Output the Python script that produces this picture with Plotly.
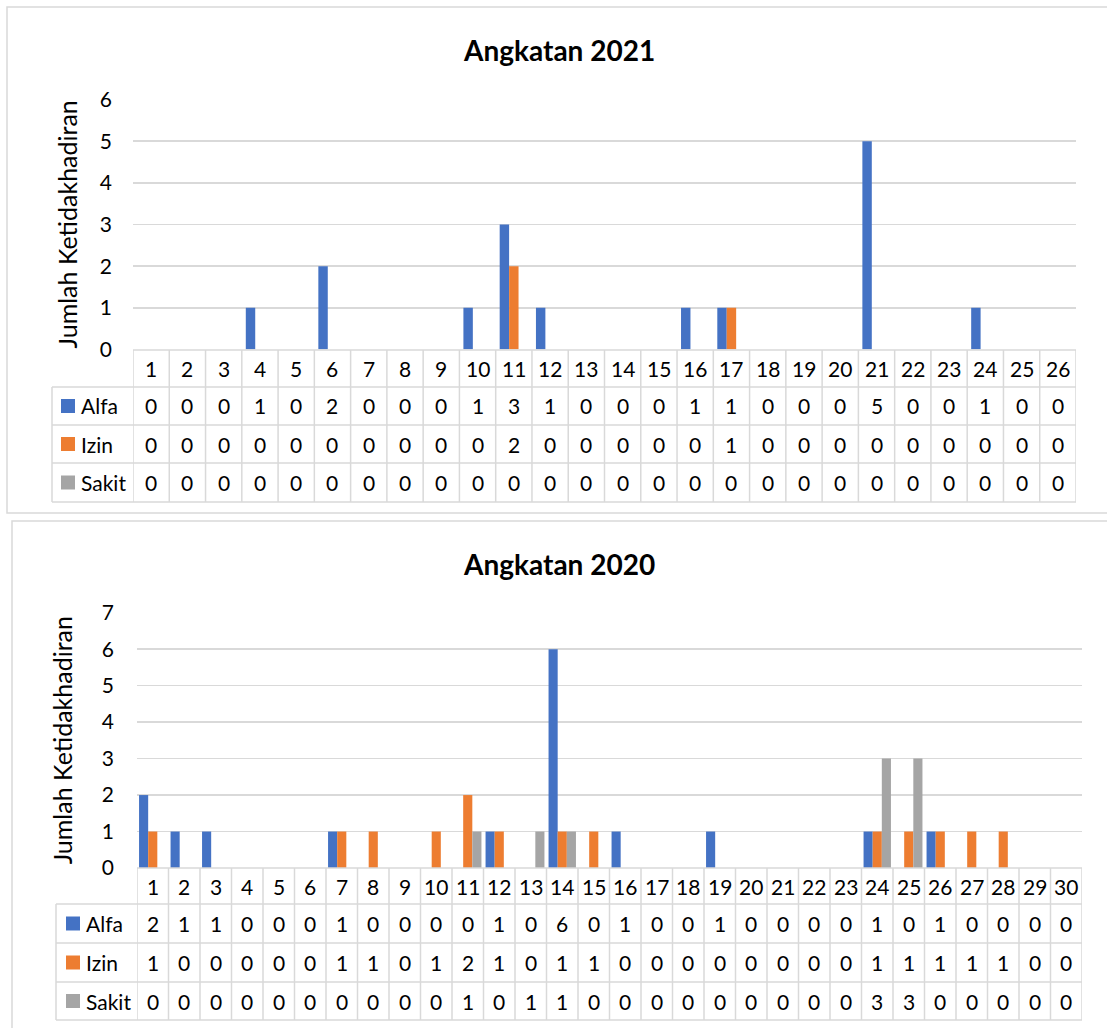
import plotly.graph_objects as go

W, H = 1107, 1028

# ---------------- data ----------------
days_2021 = ["1", "2", "3", "4", "5", "6", "7", "8", "9", "10", "11", "12", "13",
             "14", "15", "16", "17", "18", "19", "20", "21", "22", "23", "24", "25", "26"]
alfa_2021 = [0, 0, 0, 1, 0, 2, 0, 0, 0, 1, 3, 1, 0, 0, 0, 1, 1, 0, 0, 0, 5, 0, 0, 1, 0, 0]
izin_2021 = [0, 0, 0, 0, 0, 0, 0, 0, 0, 0, 2, 0, 0, 0, 0, 0, 1, 0, 0, 0, 0, 0, 0, 0, 0, 0]
sakit_2021 = [0, 0, 0, 0, 0, 0, 0, 0, 0, 0, 0, 0, 0, 0, 0, 0, 0, 0, 0, 0, 0, 0, 0, 0, 0, 0]

days_2020 = ["1", "2", "3", "4", "5", "6", "7", "8", "9", "10", "11", "12", "13", "14", "15",
             "16", "17", "18", "19", "20", "21", "22", "23", "24", "25", "26", "27", "28", "29", "30"]
alfa_2020 = [2, 1, 1, 0, 0, 0, 1, 0, 0, 0, 0, 1, 0, 6, 0, 1, 0, 0, 1, 0, 0, 0, 0, 1, 0, 1, 0, 0, 0, 0]
izin_2020 = [1, 0, 0, 0, 0, 0, 1, 1, 0, 1, 2, 1, 0, 1, 1, 0, 0, 0, 0, 0, 0, 0, 0, 1, 1, 1, 1, 1, 0, 0]
sakit_2020 = [0, 0, 0, 0, 0, 0, 0, 0, 0, 0, 1, 0, 1, 1, 0, 0, 0, 0, 0, 0, 0, 0, 0, 3, 3, 0, 0, 0, 0, 0]

series_names = ["Alfa", "Izin", "Sakit"]
series_colors = ["#4472C4", "#ED7D31", "#A5A5A5"]
titles = ["Angkatan 2021", "Angkatan 2020"]
y_title = "Jumlah Ketidakhadiran"

FONT = "Lato"
GRID = "#D9D9D9"


def fx(px):
    return px / W


def fy(py):
    return 1 - py / H


fig = go.Figure()
shapes = []
annotations = []


def add_panel(idx, cats, series, title, ymax, g):
    xa = "x" if idx == 1 else "x%d" % idx
    ya = "y" if idx == 1 else "y%d" % idx
    n = len(cats)
    bw = g["bar_w"]
    for k, (name, vals, col) in enumerate(zip(series_names, series, series_colors)):
        fig.add_trace(go.Bar(x=cats, y=vals, name=name, marker_color=col,
                             marker_line_width=0, width=bw, offset=(k - 1.5) * bw,
                             xaxis=xa, yaxis=ya, showlegend=False, hoverinfo="skip"))
    xkey = "xaxis" if idx == 1 else "xaxis%d" % idx
    ykey = "yaxis" if idx == 1 else "yaxis%d" % idx
    fig.update_layout(**{
        xkey: dict(domain=[fx(g["cat_l"]), fx(g["cat_r"])], range=[-0.5, n - 0.5],
                   type="category", categoryorder="array", categoryarray=cats,
                   showticklabels=False, showgrid=False, zeroline=False, showline=False,
                   anchor=ya, fixedrange=True, automargin=False),
        ykey: dict(domain=[fy(g["y0"]), fy(g["ytop"])], range=[0, ymax], dtick=1,
                   showgrid=True, gridcolor=GRID, gridwidth=1.5, zeroline=False,
                   showline=False, ticks="", ticklabelstandoff=g["standoff"],
                   tickfont=dict(family=FONT, size=21, color="#000000"),
                   anchor=xa, fixedrange=True, automargin=False),
    })
    # panel border
    shapes.append(dict(type="rect", xref="paper", yref="paper",
                       x0=fx(g["bx0"]), x1=fx(W + 10), y0=fy(g["by0"]), y1=fy(g["by1"]),
                       line=dict(color=GRID, width=1.5), layer="below"))
    # title
    annotations.append(dict(text="<b>%s</b>" % title, xref="paper", yref="paper",
                            x=fx(559), y=fy(g["title_y"]), showarrow=False,
                            xanchor="center", yanchor="middle",
                            font=dict(family=FONT, size=28, color="#000000")))
    # y title
    annotations.append(dict(text=y_title, xref="paper", yref="paper", textangle=-90,
                            x=fx(g["yt_x"]), y=fy((g["y0"] + g["ytop"]) / 2), showarrow=False,
                            xanchor="center", yanchor="middle",
                            font=dict(family=FONT, size=25, color="#000000")))
    rows = g["rows"]  # header top, header bottom, row1/2, row2/3, bottom
    line = dict(color=GRID, width=1.5)
    # horizontal lines
    shapes.append(dict(type="line", xref="paper", yref="paper", x0=fx(g["cat_l"]), x1=fx(g["cat_r"]),
                       y0=fy(rows[0]), y1=fy(rows[0]), line=line))
    for r in rows[1:]:
        shapes.append(dict(type="line", xref="paper", yref="paper", x0=fx(g["tab_l"]), x1=fx(g["cat_r"]),
                           y0=fy(r), y1=fy(r), line=line))
    # vertical lines
    shapes.append(dict(type="line", xref="paper", yref="paper", x0=fx(g["tab_l"]), x1=fx(g["tab_l"]),
                       y0=fy(rows[1]), y1=fy(rows[4]), line=line))
    for b in range(n + 1):
        shapes.append(dict(type="line", xref=xa, yref="paper", x0=b - 0.5, x1=b - 0.5,
                           y0=fy(rows[0]), y1=fy(rows[4]), line=line))
    tfont = dict(family=FONT, size=21, color="#000000")
    # header
    for i, c in enumerate(cats):
        annotations.append(dict(text=c, xref=xa, yref="paper", x=i, y=fy((rows[0] + rows[1]) / 2),
                                showarrow=False, xanchor="center", yanchor="middle", font=tfont))
    # rows
    for k, (name, vals, col) in enumerate(zip(series_names, series, series_colors)):
        ymid = (rows[1 + k] + rows[2 + k]) / 2
        shapes.append(dict(type="rect", xref="paper", yref="paper",
                           x0=fx(g["sq_x"]), x1=fx(g["sq_x"] + 14), y0=fy(ymid - 7), y1=fy(ymid + 7),
                           fillcolor=col, line=dict(width=0)))
        annotations.append(dict(text=name, xref="paper", yref="paper", x=fx(g["sq_x"] + 18),
                                y=fy(ymid), showarrow=False, xanchor="left", yanchor="middle", font=tfont))
        for i, v in enumerate(vals):
            annotations.append(dict(text=str(v), xref=xa, yref="paper", x=i, y=fy(ymid),
                                    showarrow=False, xanchor="center", yanchor="middle", font=tfont))


geom_2021 = dict(cat_l=133, cat_r=1076, y0=349.5, ytop=99.5, tab_l=52, sq_x=61,
                 rows=[350, 387, 425, 463, 502], bx0=7, by0=7, by1=513,
                 title_y=50, yt_x=66, standoff=20, bar_w=0.26)
geom_2020 = dict(cat_l=137, cat_r=1082, y0=868, ytop=612.7, tab_l=56, sq_x=66,
                 rows=[868, 904, 943, 982, 1020], bx0=12, by0=521, by1=H + 10,
                 title_y=564, yt_x=62, standoff=22, bar_w=0.29)

add_panel(1, days_2021, [alfa_2021, izin_2021, sakit_2021], titles[0], 6, geom_2021)
add_panel(2, days_2020, [alfa_2020, izin_2020, sakit_2020], titles[1], 7, geom_2020)

fig.update_layout(width=W, height=H, margin=dict(l=0, r=0, t=0, b=0, pad=0, autoexpand=False),
                  paper_bgcolor="white", plot_bgcolor="white", barmode="overlay",
                  shapes=shapes, annotations=annotations, template="none", hovermode=False,
                  font=dict(family=FONT, color="#000000"))

fig.write_html("out.html", config={"displayModeBar": False, "staticPlot": True},
               post_script="document.body.style.margin='0px';")
